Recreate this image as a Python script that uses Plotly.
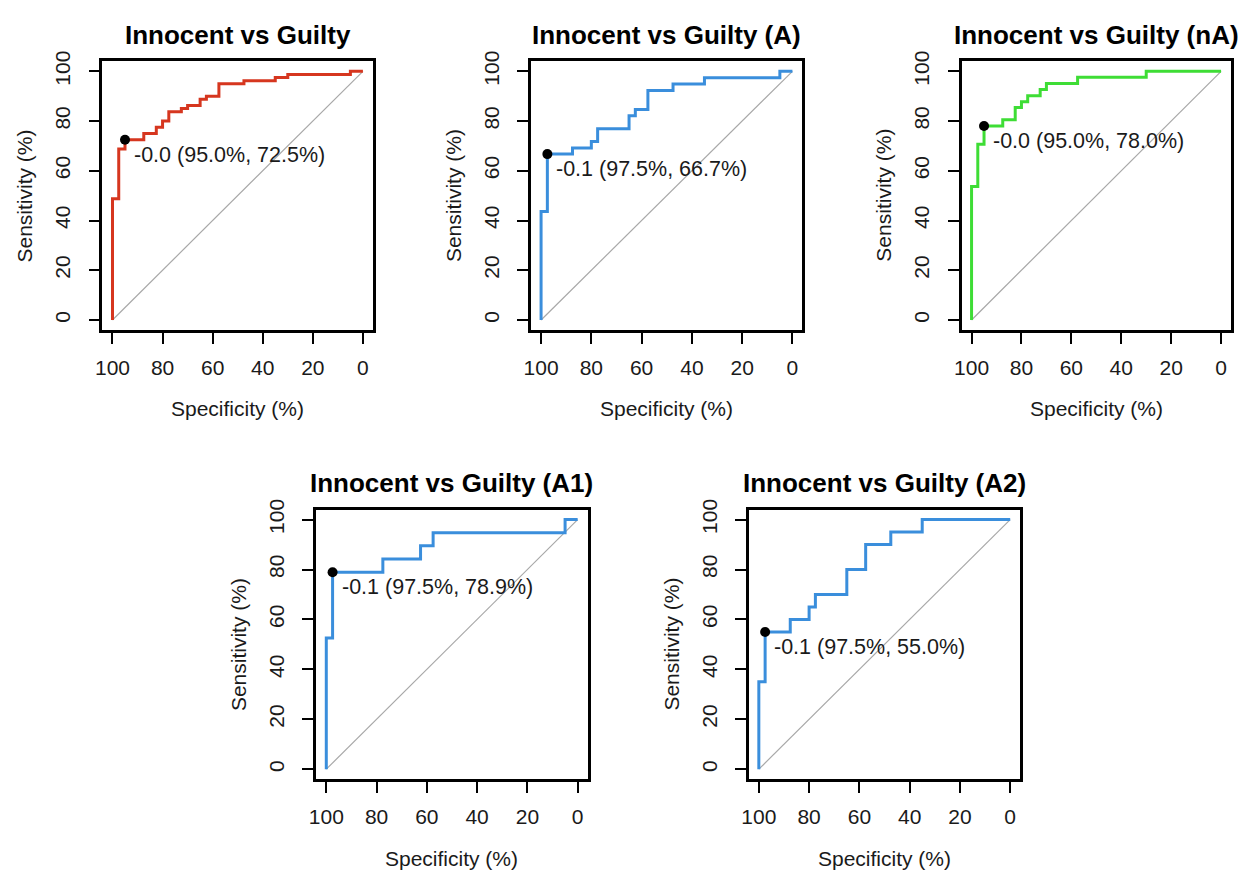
import plotly.graph_objects as go

# ---------------- data ----------------
titles = ["Innocent vs Guilty", "Innocent vs Guilty (A)", "Innocent vs Guilty (nA)",
          "Innocent vs Guilty (A1)", "Innocent vs Guilty (A2)"]

spec_all = [100, 97.5, 95, 87.5, 82.5, 80, 77.5, 72.5, 70, 65, 62.5, 57.5, 47.5, 35, 30, 5, 0]
sens_all = [0, 48.75, 68.75, 72.5, 75, 77.5, 80, 83.75, 85, 86.25, 88.75, 90, 95, 96.25, 97.5, 98.75, 100]

spec_A = [100, 97.5, 87.5, 80, 77.5, 65, 62.5, 57.5, 47.5, 35, 5, 0]
sens_A = [0, 43.6, 66.7, 69.2, 71.8, 76.9, 82.1, 84.6, 92.3, 94.9, 97.4, 100]

spec_nA = [100, 97.5, 95, 87.5, 82.5, 80, 77.5, 72.5, 70, 57.5, 30, 0]
sens_nA = [0, 53.7, 70.7, 78.0, 80.5, 85.4, 87.8, 90.2, 92.7, 95.1, 97.6, 100]

spec_A1 = [100, 97.5, 77.5, 62.5, 57.5, 5, 0]
sens_A1 = [0, 52.6, 78.9, 84.2, 89.5, 94.7, 100]

spec_A2 = [100, 97.5, 87.5, 80, 77.5, 65, 57.5, 47.5, 35, 0]
sens_A2 = [0, 35, 55, 60, 65, 70, 80, 90, 95, 100]

thr_labels = ["-0.0", "-0.1", "-0.0", "-0.1", "-0.1"]
thr_spec = [95.0, 97.5, 95.0, 97.5, 97.5]
thr_sens = [72.5, 66.7, 78.0, 78.9, 55.0]

tick_vals = [0, 20, 40, 60, 80, 100]
colors = ["#D6361F", "#3A8EDC", "#3EDD35", "#3A8EDC", "#3A8EDC"]

curves = [(spec_all, sens_all), (spec_A, sens_A), (spec_nA, sens_nA),
          (spec_A1, sens_A1), (spec_A2, sens_A2)]

# ---------------- layout geometry (pixels) ----------------
W, H = 1239, 870
boxes = [(96, 368, 51, 323), (527, 800, 51, 323), (960, 1231, 51, 323),
         (311, 584, 505, 778), (746, 1019, 505, 778)]

FONT = "Liberation Sans, Arial, sans-serif"
TXT = "#1a1a1a"

fig = go.Figure()
layout = dict(width=W, height=H, margin=dict(l=0, r=0, t=0, b=0),
              paper_bgcolor="white", plot_bgcolor="white", showlegend=False,
              font=dict(family=FONT, size=21, color=TXT))
annotations = []

for i, (box, (sx, sy)) in enumerate(zip(boxes, curves)):
    n = "" if i == 0 else str(i + 1)
    x0, x1, y0, y1 = box
    xd = [x0 / W, x1 / W]
    yd = [1 - y1 / H, 1 - y0 / H]
    axis_common = dict(showgrid=False, zeroline=False, showline=True, mirror=True,
                       linecolor="black", linewidth=2.5, ticks="outside", ticklen=11,
                       tickwidth=1.5, tickcolor="black", tickvals=tick_vals,
                       ticktext=[str(v) for v in tick_vals],
                       tickfont=dict(family=FONT, size=21, color=TXT),
                       fixedrange=True)
    layout["xaxis" + n] = dict(domain=xd, range=[104, -4], anchor="y" + n,
                               ticklabelstandoff=6, **axis_common)
    layout["yaxis" + n] = dict(domain=yd, range=[-4, 104], anchor="x" + n,
                               tickangle=-90, ticklabelstandoff=10, **axis_common)
    xr, yr = "x" + n, "y" + n

    # diagonal reference line
    fig.add_trace(go.Scatter(x=[100, 0], y=[0, 100], mode="lines",
                             line=dict(color="#A8A8A8", width=1.2),
                             xaxis=xr, yaxis=yr, hoverinfo="skip"))
    # ROC curve
    fig.add_trace(go.Scatter(x=sx, y=sy, mode="lines", line_shape="vh",
                             line=dict(color=colors[i], width=3),
                             xaxis=xr, yaxis=yr))
    # best threshold
    fig.add_trace(go.Scatter(x=[thr_spec[i]], y=[thr_sens[i]], mode="markers",
                             marker=dict(color="black", size=10),
                             xaxis=xr, yaxis=yr))
    annotations.append(dict(
        x=thr_spec[i], y=thr_sens[i], xref=xr, yref=yr,
        text=f"{thr_labels[i]} ({thr_spec[i]:.1f}%, {thr_sens[i]:.1f}%)",
        showarrow=False, xanchor="left", yanchor="middle", xshift=7, yshift=-15,
        font=dict(family=FONT, size=21.5, color=TXT)))

    cx = (x0 + x1) / 2 / W
    cy = 1 - (y0 + y1) / 2 / H
    # panel title
    annotations.append(dict(x=cx, y=1 - (y0 - 27) / H, xref="paper", yref="paper",
                            text=f"<b>{titles[i]}</b>", showarrow=False,
                            xanchor="center", yanchor="middle",
                            font=dict(family=FONT, size=26, color="black")))
    # x axis title
    annotations.append(dict(x=cx, y=1 - (y1 + 80) / H, xref="paper", yref="paper",
                            text="Specificity (%)", showarrow=False,
                            xanchor="center", yanchor="middle",
                            font=dict(family=FONT, size=21, color=TXT)))
    # y axis title
    annotations.append(dict(x=(x0 - 78) / W, y=cy, xref="paper", yref="paper",
                            text="Sensitivity (%)", showarrow=False, textangle=-90,
                            xanchor="center", yanchor="middle",
                            font=dict(family=FONT, size=21, color=TXT)))

layout["annotations"] = annotations
fig.update_layout(**layout)
fig.write_html("out.html")
